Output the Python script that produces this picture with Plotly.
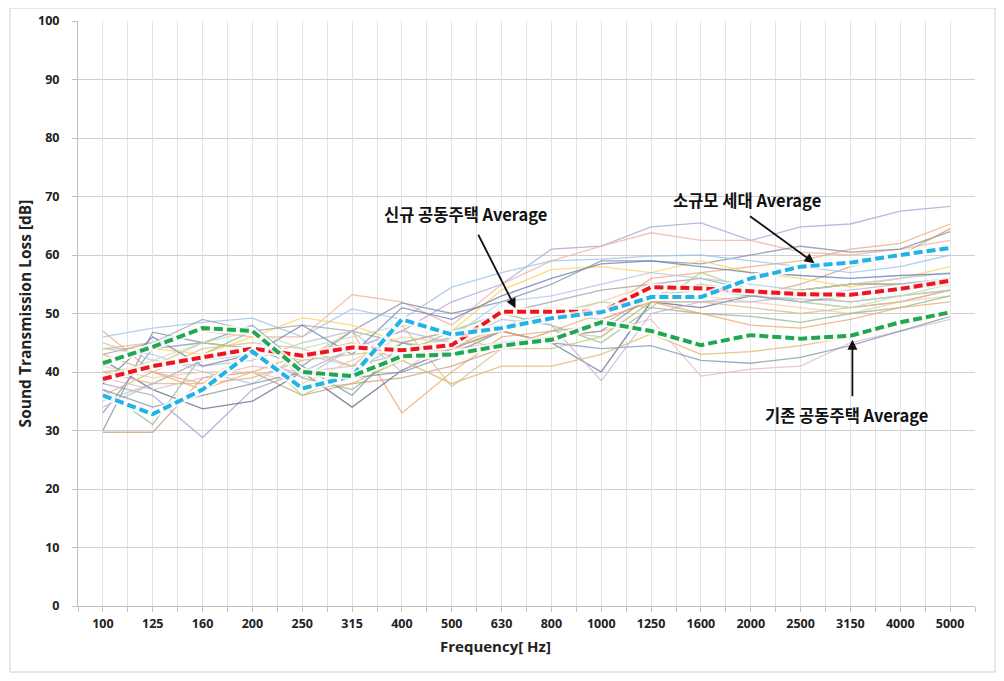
import plotly.graph_objects as go

freqs = ["100", "125", "160", "200", "250", "315", "400", "500", "630", "800",
         "1000", "1250", "1600", "2000", "2500", "3150", "4000", "5000"]

# Individual measurement curves (thin lines)
thin_series = [
    [38, 36, 28.8, 37, 40, 44, 47, 52, 55, 61, 61.5, 64.8, 65.5, 62.5, 64.8, 65.3, 67.5, 68.3],
    [44, 45, 47, 46, 46, 53.2, 52, 48, 55, 59, 61.5, 63.8, 62.5, 62.5, 60.5, 60, 61, 62.5],
    [47, 40, 38, 39, 42, 47, 33, 40, 46, 47, 50, 56, 57, 58, 59, 61, 62, 65.3],
    [30, 46.8, 45, 44, 41, 47, 51.8, 50, 52, 55, 59, 59, 58.5, 60, 61.5, 60.5, 61, 64],
    [29.7, 29.7, 39, 40, 36, 38, 39, 41, 44, 47, 48, 53, 55, 53, 55, 58, 60, 64.5],
    [44, 44, 43, 46, 49.3, 48, 45, 47, 54, 57.5, 58, 57, 59, 57, 56, 54.5, 56, 58],
    [46, 47.5, 48.5, 49.2, 46, 50.8, 49, 54.5, 57, 59, 59.3, 59.8, 60, 59, 58, 57, 58, 60],
    [43, 45, 49, 47, 48, 47, 45, 47, 50, 52, 54, 55, 56, 54, 52, 51, 52, 54],
    [35, 38, 42, 44, 36, 40, 45, 44, 48, 50, 52, 51, 57, 54, 53, 52, 53, 54],
    [42, 37, 33.7, 35, 40, 34, 40.3, 44, 47, 45, 40, 52, 51, 53, 54, 55, 55, 56],
    [40, 38, 38, 44, 37, 38, 42, 38, 41, 41, 43, 46.5, 43, 43.5, 44.5, 46, 48, 50],
    [39, 37, 39, 41, 40, 41, 43, 44, 45, 46, 47, 49, 39.3, 40.5, 41, 45, 47, 49],
    [33, 44, 45, 48, 41, 36, 45, 43, 47, 45, 44, 44.5, 42, 41.5, 42.5, 44.5, 47, 49.5],
    [41, 39, 40, 40, 38, 42, 46, 45, 47, 49, 52, 55, 53, 52, 51, 50, 52, 53],
    [37, 31, 43, 47, 39, 37, 43, 47, 50, 48, 45, 51, 50, 49.5, 48.5, 50, 51, 53],
    [44, 43, 40, 38, 43, 41, 43, 46, 52, 53, 55, 57, 56, 55, 54, 55, 56, 57],
    [36, 40, 44, 45, 44, 41, 48, 37.5, 44, 47, 46, 52, 52, 51, 50, 51, 52, 54],
    [45, 42, 41, 42, 45, 47, 40, 46, 48, 50, 49, 52, 52, 53, 52.5, 52, 53, 54],
    [38, 46, 41, 43, 48, 43, 51, 49, 53, 56, 58.5, 59, 58, 57, 56.5, 56, 56.5, 56.8],
    [40, 41, 45, 44, 42, 43, 44, 46, 44, 44, 46, 52, 53, 54, 54, 55, 55, 55],
    [34, 38, 42, 43, 39, 44, 47, 45, 49, 48, 38.5, 50, 52, 52, 53, 54, 55, 55.5],
    [43, 40, 37, 40, 43, 45, 42, 44, 47, 45, 49, 52, 50, 48, 47.5, 49, 51, 52],
    [37, 34, 36, 38, 40, 39, 40, 43, 45, 46, 47, 53, 54, 53, 52, 53, 54, 55],
    [39, 42, 45, 47, 44, 46, 48, 47, 50, 51, 50, 53, 55, 54, 52, 51, 53, 55],
]
thin_colors = ["#ABA4D6", "#F2B3A0", "#EFA877", "#7F8FA9", "#C9A27E", "#FFD35C",
               "#9DC3E6", "#A5A5A5", "#A9D18E", "#5D6E8E", "#E2B86B", "#E6B8C8",
               "#8497B0", "#F8CBAD", "#8FBC8F", "#B4C7E7", "#D9C08C", "#BFBFBF",
               "#6A80B3", "#C5C97A", "#C4B5D9", "#F0A870", "#8A93A6", "#C6E0B4"]

avg_new = [38.8, 41.0, 42.5, 44.0, 42.8, 44.2, 43.7, 44.6, 50.3, 50.3, 50.3, 54.5,
           54.3, 53.8, 53.3, 53.2, 54.2, 55.6]
avg_small = [36.0, 32.8, 37.0, 43.5, 37.2, 39.3, 49.0, 46.4, 47.5, 49.2, 50.2, 52.8,
             52.8, 56.0, 58.0, 58.7, 60.0, 61.2]
avg_old = [41.5, 44.3, 47.5, 47.0, 40.0, 39.3, 42.7, 43.0, 44.5, 45.5, 48.5, 47.0,
           44.6, 46.3, 45.7, 46.2, 48.5, 50.2]

avg_names = ["신규 공동주택 Average", "소규모 세대 Average", "기존 공동주택 Average"]
avg_values = [avg_new, avg_small, avg_old]
avg_colors = ["#F0141E", "#21B2E8", "#1FA84F"]

x_title = "Frequency[ Hz]"
y_title = "Sound Transmission Loss [dB]"

fig = go.Figure()

for vals, col in zip(thin_series, thin_colors):
    fig.add_trace(go.Scatter(x=freqs, y=vals, mode="lines",
                             line=dict(color=col, width=1.3), opacity=0.78,
                             showlegend=False, hoverinfo="skip"))

for name, vals, col in zip(avg_names, avg_values, avg_colors):
    fig.add_trace(go.Scatter(x=freqs, y=vals, mode="lines",
                             line=dict(color="rgba(255,255,255,0.8)", width=8),
                             showlegend=False, hoverinfo="skip"))
    fig.add_trace(go.Scatter(x=freqs, y=vals, mode="lines", name=name,
                             line=dict(color=col, width=4, dash="9px,4px"),
                             showlegend=False))

# empty overlay axis for the centre gridlines / ticks
fig.add_trace(go.Scatter(x=freqs, y=[None] * len(freqs), xaxis="x2",
                         mode="lines", showlegend=False, hoverinfo="skip"))

ann_font = dict(family="Noto Sans CJK KR", size=16.5, color="#111111", weight="bold")
arrow_specs = [  # head position (category index, value), tail offset px
    (8.28, 50.9, -38, -75),
    (14.28, 58.6, -66, -48),
    (15.04, 45.5, 0, 58),
]
for hx, hy, ax, ay in arrow_specs:
    fig.add_annotation(x=hx, y=hy, text="", showarrow=True, ax=ax, ay=ay,
                       arrowhead=2, arrowsize=1.1, arrowwidth=1.8,
                       arrowcolor="#111111", xref="x", yref="y")
label_specs = [(7.27, 67.0, avg_names[0]), (12.93, 69.4, avg_names[1]),
               (14.92, 32.6, avg_names[2])]
for tx, ty, t in label_specs:
    fig.add_annotation(x=tx, y=ty, text=t, showarrow=False, font=ann_font,
                       xref="x", yref="y")

# x-axis title (slightly left of centre, as in the original)
fig.add_annotation(x=(495 - 78) / 897, y=(606 - 646) / 585, xref="paper", yref="paper",
                   text=x_title, showarrow=False, xanchor="center", yanchor="middle",
                   font=dict(family="Open Sans", size=15, color="#222222", weight="bold"))

# chart border
fig.add_shape(type="rect", xref="paper", yref="paper",
              x0=(10 - 78) / 897, x1=(995 - 78) / 897,
              y0=(606 - 672) / 585, y1=(606 - 8) / 585,
              line=dict(color="#D0D0D0", width=1))

tick_font = dict(family="Open Sans", size=12.5, color="#222222", weight="bold")
fig.update_layout(
    width=1004, height=681,
    margin=dict(l=70, r=37, t=13, b=83, autoexpand=False),
    paper_bgcolor="white", plot_bgcolor="white",
    font=dict(family="Open Sans"),
    xaxis=dict(type="category", categoryorder="array", categoryarray=freqs,
               range=[-0.5, 17.5], tickson="boundaries", showgrid=True,
               gridcolor="#E3E3E3", gridwidth=1, ticks="outside", ticklen=5,
               tickcolor="#BFBFBF", showline=True, linecolor="#BFBFBF",
               tickfont=tick_font, ticklabelstandoff=6, automargin=False,
               zeroline=False),
    xaxis2=dict(type="category", categoryorder="array", categoryarray=freqs,
                range=[-0.5, 17.5], overlaying="x", anchor="y", side="bottom",
                showgrid=True, gridcolor="#E3E3E3", gridwidth=1,
                ticks="outside", ticklen=5, tickcolor="#BFBFBF", automargin=False,
                showticklabels=False, showline=False, zeroline=False),
    yaxis=dict(range=[0, 100], dtick=10, showgrid=True, gridcolor="#CFCFCF",
               gridwidth=1, ticks="outside", ticklen=5, tickcolor="#BFBFBF",
               showline=True, linecolor="#BFBFBF", zeroline=False,
               tickfont=tick_font, ticklabelstandoff=10, automargin=False,
               title=dict(text=y_title, standoff=2,
                          font=dict(family="Open Sans", size=15.5, color="#222222",
                                    weight="bold"))),
)

fig.write_html("out.html")
